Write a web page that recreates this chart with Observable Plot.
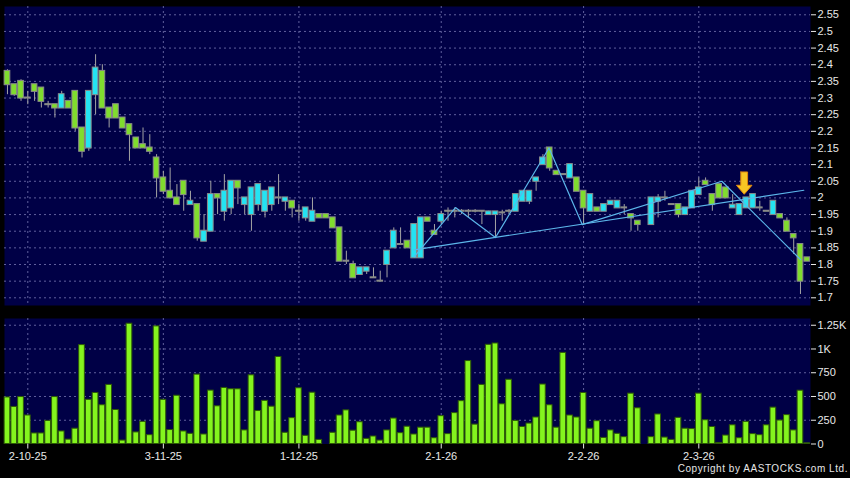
<!DOCTYPE html>
<html><head><meta charset="utf-8">
<script src="https://cdn.jsdelivr.net/npm/d3@7"></script>
<script src="https://cdn.jsdelivr.net/npm/@observablehq/plot@0.6"></script>
<style>
html,body{margin:0;padding:0;background:#000;}
#wrap{position:relative;width:850px;height:478px;background:#000;overflow:hidden;font-family:Arial,"Liberation Sans",sans-serif;}
#price{position:absolute;left:0;top:0;}
#vol{position:absolute;left:0;top:312px;}
#copy{position:absolute;right:2px;top:463px;color:#e6e6e6;font-size:10px;font-weight:normal;letter-spacing:0.55px;white-space:nowrap;}
</style></head><body>
<div id="wrap"><div id="price"></div><div id="vol"></div><div id="copy">Copyright by AASTOCKS.com Ltd.</div></div>
<script>
// ---- data (one entry per trading day, index 0..118) ----
const opens = [2.38,2.34,2.35,2.30,2.34,2.33,2.28,2.28,2.27,2.29,
2.32,2.21,2.15,2.31,2.38,2.27,2.28,2.24,2.22,2.18,
2.16,2.15,2.12,2.06,2.02,2.00,2.05,1.98,1.98,1.87,
1.90,2.01,1.96,1.97,2.05,1.98,1.95,1.98,1.96,1.98,
2.00,1.99,1.99,1.96,1.94,1.93,1.95,1.95,1.94,1.91,
1.81,1.80,1.77,1.78,1.76,1.75,1.80,1.85,1.86,1.87,
1.82,1.82,1.94,1.90,1.93,1.96,1.96,1.96,1.96,1.96,
1.96,1.95,1.95,1.955,1.96,1.96,1.99,1.99,2.05,2.10,
2.15,2.08,2.07,2.06,2.06,2.02,1.96,1.97,1.96,1.98,
1.97,1.97,1.95,1.93,null,1.92,1.99,2.00,1.98,1.98,
1.95,1.97,2.01,2.05,2.01,2.04,2.03,1.97,1.95,1.97,
1.97,1.97,1.96,1.95,1.95,1.93,1.89,1.86,1.82];
const highs = [2.385,2.34,2.355,2.32,2.34,2.33,2.29,2.28,2.32,2.29,
2.32,2.21,2.32,2.43,2.40,2.27,2.28,2.24,2.22,2.18,
2.21,2.19,2.13,2.08,2.09,2.04,2.05,2.02,1.98,1.95,
2.05,2.01,2.07,2.05,2.05,2.00,2.03,2.04,2.02,2.03,
2.07,2.00,1.99,1.98,1.97,2.00,1.95,1.95,1.94,1.91,
1.84,1.81,1.79,1.79,1.79,1.78,1.84,1.91,1.91,1.87,
1.92,1.94,1.94,1.92,1.96,1.97,1.97,1.965,1.965,1.965,
1.96,1.96,1.958,1.963,1.965,2.01,2.02,2.02,2.06,2.13,
2.15,2.08,2.07,2.10,2.06,2.02,2.01,1.97,1.98,1.99,
1.99,1.98,1.95,1.93,null,2.00,2.01,2.02,1.98,1.98,
1.97,2.02,2.06,2.06,2.01,2.04,2.03,2.01,1.98,2.00,
2.01,1.99,1.96,1.99,1.95,1.94,1.89,1.86,1.82];
const lows = [2.31,2.305,2.29,2.28,2.29,2.27,2.27,2.24,2.27,2.27,
2.20,2.12,2.14,2.25,2.27,2.21,2.24,2.21,2.11,2.15,
2.15,2.13,2.00,2.01,2.00,1.98,1.96,1.98,1.87,1.87,
1.90,1.95,1.93,1.95,1.98,1.95,1.90,1.96,1.94,1.96,
1.98,1.96,1.94,1.93,1.93,1.93,1.94,1.94,1.91,1.81,
1.80,1.76,1.77,1.77,1.76,1.75,1.76,1.85,1.86,1.85,
1.82,1.82,1.93,1.89,1.92,1.93,1.94,1.95,1.94,1.955,
1.92,1.95,1.88,1.93,1.95,1.96,1.99,1.98,2.02,2.10,
2.08,2.07,2.07,2.06,2.02,1.92,1.96,1.96,1.96,1.98,
1.97,1.95,1.90,1.90,null,1.92,1.94,1.99,1.98,1.94,
1.95,1.97,2.01,2.04,1.96,2.00,2.00,1.97,1.95,1.97,
1.97,1.96,1.96,1.95,1.94,1.90,1.83,1.71,1.81];
const closes = [2.34,2.31,2.30,2.30,2.32,2.29,2.28,2.27,2.31,2.27,
2.21,2.14,2.32,2.39,2.27,2.24,2.24,2.21,2.19,2.15,
2.15,2.14,2.06,2.02,2.00,1.98,2.01,1.99,1.88,1.90,
2.01,2.00,2.02,2.05,2.03,2.00,2.03,2.04,2.02,2.03,
2.00,2.00,1.97,1.96,1.97,1.96,1.94,1.94,1.91,1.81,
1.81,1.76,1.79,1.79,1.76,1.75,1.84,1.90,1.86,1.85,
1.92,1.94,1.93,1.89,1.95,1.96,1.96,1.96,1.96,1.96,
1.96,1.958,1.958,1.955,1.96,2.01,2.02,2.02,2.06,2.12,
2.09,2.07,2.07,2.10,2.02,1.97,2.01,1.96,1.98,1.99,
1.99,1.97,1.94,1.92,null,2.00,2.00,2.00,1.98,1.95,
1.97,2.02,2.03,2.04,1.98,2.00,2.00,1.978,1.98,2.00,
2.01,1.97,1.96,1.99,1.94,1.90,1.88,1.75,1.81];
const volumes = [490,390,494,300,111,111,243,494,132,46,
161,1041,465,537,408,622,358,36,1266,122,
233,93,1238,465,147,508,132,107,730,100,
562,397,590,576,576,143,723,347,454,393,
916,118,272,587,86,540,43,0,118,300,
354,140,229,54,79,36,143,268,114,182,
100,172,172,61,293,104,325,451,873,204,
622,1044,1058,418,676,243,179,215,279,626,
408,172,959,300,279,537,161,240,64,143,
107,72,530,376,0,72,311,68,43,275,
161,157,530,250,179,11,89,197,61,233,
104,93,197,383,247,304,143,561,7];
// date ticks (trading-day index -> label)
const dateIdx = [3,23,43,64,85,102];
const dateLabels = ["2-10-25","3-11-25","1-12-25","2-1-26","2-2-26","2-3-26"];
const priceTicks = [1.7,1.75,1.8,1.85,1.9,1.95,2,2.05,2.1,2.15,2.2,2.25,2.3,2.35,2.4,2.45,2.5,2.55];
const volTicks = [0,250,500,750,1000,1250];
// trend lines (pivot index, price)
const zigIdx = [60,66.1,72,79.9,84.8,105.4,117];
const zigPrice = [1.823,1.971,1.881,2.15,1.92,2.05,1.815];
const supIdx = [60,117.5];
const supPrice = [1.844,2.023];
// signal arrow
const arrowIdx = 108.7, arrowTip = 2.011, arrowNeck = 2.038, arrowTail = 2.078;

const bars = opens.map((o,i)=>({i,o,h:highs[i],l:lows[i],c:closes[i],v:volumes[i]}));
const candles = bars.filter(d=>d.o!=null);
const zig = zigIdx.map((x,k)=>({x,y:zigPrice[k]}));
const sup = supIdx.map((x,k)=>({x,y:supPrice[k]}));
const aw = 0.5, ah = 1.15;
const arrow = [[arrowIdx-aw,arrowTail],[arrowIdx+aw,arrowTail],[arrowIdx+aw,arrowNeck],[arrowIdx+ah,arrowNeck],[arrowIdx,arrowTip],[arrowIdx-ah,arrowNeck],[arrowIdx-aw,arrowNeck],[arrowIdx-aw,arrowTail]].map(([x,y])=>({x,y}));

const xDomain = [-0.438,118.48];
const GRID = "#6a6aa6";
const TXT = "#e8e8e8";
const font = "Arial, 'Liberation Sans', sans-serif";

const price = Plot.plot({
  width:850, height:310, marginLeft:4, marginRight:40, marginTop:6, marginBottom:5,
  style:{background:"#000", color:TXT, fontFamily:font, fontSize:"11px"},
  x:{type:"linear", domain:xDomain, axis:null, label:null},
  y:{domain:[1.6769,2.5749], axis:null, label:null},
  marks:[
    Plot.frame({fill:"#000046", stroke:"none"}),
    Plot.gridY(priceTicks,{stroke:GRID, strokeOpacity:0.9, strokeDasharray:"2,3"}),
    Plot.gridX(dateIdx,{stroke:GRID, strokeOpacity:0.9, strokeDasharray:"2,3"}),
    Plot.ruleX(candles,{x:"i", y1:"l", y2:"h", stroke:"#a4a4a4"}),
    Plot.rect(candles,{x1:d=>d.i-0.42, x2:d=>d.i+0.42, y1:d=>Math.min(d.o,d.c), y2:d=>Math.max(d.o,d.c),
      fill:d=>d.c>d.o?"#24e3f2":"#80dc2e", stroke:"#8a8a8a", strokeWidth:1, insetTop:-0.5, insetBottom:-0.5}),
    Plot.line(sup,{x:"x", y:"y", stroke:"#5cb6ea", strokeWidth:1.2}),
    Plot.line(zig,{x:"x", y:"y", stroke:"#5cb6ea", strokeWidth:1.2}),
    Plot.line(arrow,{x:"x", y:"y", fill:"#f7c623", stroke:"#e0860f", strokeWidth:1}),
    Plot.axisY(priceTicks,{anchor:"right", label:null, tickSize:5, tickPadding:2, tickFormat:d=>String(+d.toFixed(2)), stroke:TXT, fill:TXT, fontSize:11})
  ]
});
document.getElementById("price").appendChild(price);

const vol = Plot.plot({
  width:850, height:166, marginLeft:4, marginRight:40, marginTop:6, marginBottom:34.5,
  style:{background:"#000", color:TXT, fontFamily:font, fontSize:"11px"},
  x:{type:"linear", domain:xDomain, axis:null, label:null},
  y:{domain:[0,1321], axis:null, label:null},
  marks:[
    Plot.frame({fill:"#000046", stroke:"none"}),
    Plot.gridY(volTicks.filter(v=>v>0),{stroke:GRID, strokeOpacity:0.9, strokeDasharray:"2,3"}),
    Plot.gridX(dateIdx,{stroke:GRID, strokeOpacity:0.9, strokeDasharray:"2,3"}),
    Plot.rect(bars.filter(d=>d.v>0),{x1:d=>d.i-0.42, x2:d=>d.i+0.42, y1:0, y2:"v", fill:"#84f41e", stroke:"#2e5a06", strokeWidth:1}),
    Plot.axisY(volTicks,{anchor:"right", label:null, tickSize:5, tickPadding:2, tickFormat:d=>d>=1000?(d/1000)+"K":String(d), stroke:TXT, fill:TXT, fontSize:11}),
    Plot.axisX(dateIdx,{anchor:"bottom", label:null, tickSize:5, tickPadding:3, tickFormat:d=>dateLabels[dateIdx.indexOf(d)], stroke:TXT, fill:TXT, fontSize:11})
  ]
});
document.getElementById("vol").appendChild(vol);
</script>
</body></html>
